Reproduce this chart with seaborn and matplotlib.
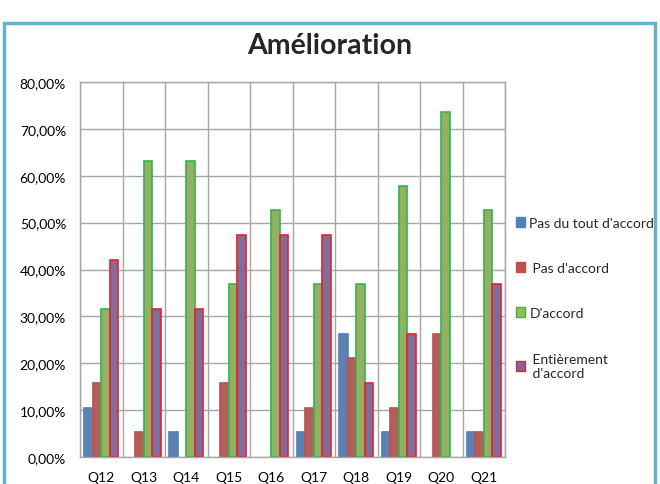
import matplotlib
matplotlib.use("Agg")
import matplotlib.pyplot as plt
import seaborn as sns
import pandas as pd
from matplotlib.ticker import FuncFormatter, MultipleLocator
from matplotlib.patches import Rectangle, Patch

questions = ["Q12", "Q13", "Q14", "Q15", "Q16", "Q17", "Q18", "Q19", "Q20", "Q21"]
pas_du_tout = [10.53, 0, 5.26, 0, 0, 5.26, 26.32, 5.26, 0, 5.26]
pas_accord = [15.79, 5.26, 0, 15.79, 0, 10.53, 21.05, 10.53, 26.32, 5.26]
accord = [31.58, 63.16, 63.16, 36.84, 52.63, 36.84, 36.84, 57.89, 73.68, 52.63]
entierement = [42.11, 31.58, 31.58, 47.37, 47.37, 47.37, 15.79, 26.32, 0, 36.84]
series_names = ["Pas du tout d'accord", "Pas d'accord", "D'accord", "Entièrement d'accord"]
legend_labels = ["Pas du tout d'accord", " Pas d'accord", "D'accord", " Entièrement\n d'accord"]
title = "Amélioration"

fills = ["#4F81BD", "#C0504D", "#9BBB59", "#8064A2"]
edges = ["#4F81BD", "#C0504D", "#2DB84B", "#E8202A"]

sns.set_theme(style="white")
plt.rcParams["font.family"] = ["Lato", "DejaVu Sans"]

rows = []
for name, vals in zip(series_names, [pas_du_tout, pas_accord, accord, entierement]):
    for q, v in zip(questions, vals):
        rows.append({"Question": q, "Série": name, "Valeur": v})
df = pd.DataFrame(rows)

fig = plt.figure(figsize=(6.6, 4.85), dpi=100)
ax = fig.add_axes([80 / 660, 27 / 485, 425 / 660, 375 / 485])

sns.barplot(data=df, x="Question", y="Valeur", hue="Série", hue_order=series_names,
            order=questions, palette=fills, width=0.8, ax=ax, legend=False)

for cont, ec in zip(ax.containers, edges):
    for bar in cont:
        if bar.get_height() <= 0:
            bar.set_linewidth(0)
        else:
            bar.set_edgecolor(ec)
            bar.set_linewidth(1.2)

ax.set_ylim(0, 80)
ax.set_xlim(-0.5, len(questions) - 0.5)
ax.yaxis.set_major_locator(MultipleLocator(10))
ax.yaxis.set_major_formatter(FuncFormatter(lambda v, p: f"{v:.2f}%".replace(".", ",")))
ax.set_xlabel("")
ax.set_ylabel("")
ax.set_axisbelow(True)
ax.grid(axis="y", color="#A6A6A6", linewidth=1)
for i in range(len(questions) + 1):
    ax.axvline(i - 0.5, color="#A6A6A6", linewidth=1, zorder=0)
for s in ax.spines.values():
    s.set_color("#A6A6A6")
    s.set_linewidth(1)
ax.tick_params(axis="both", labelsize=10, colors="#000000", length=0)
ax.tick_params(axis="y", pad=10)
ax.tick_params(axis="x", pad=10)

fig.text(330 / 660, 1 - 46 / 485, title, ha="center", va="center",
         fontsize=20.5, fontweight="bold")

handles = [Patch(facecolor=f, edgecolor=e, linewidth=1) for f, e in zip(fills, edges)]
fig.legend(handles=handles, labels=legend_labels, loc="upper left",
           bbox_to_anchor=(503 / 660, 1 - 205 / 485), frameon=False,
           fontsize=10, handlelength=0.7, handleheight=0.7, handletextpad=0.3,
           labelspacing=2.4)

border = Rectangle((4 / 660, -0.02), 651 / 660, (485 - 24) / 485 + 0.02,
                   transform=fig.transFigure, fill=False, edgecolor="#5FB3CC",
                   linewidth=2.5)
fig.patches.append(border)

fig.savefig("out.png", dpi=100)
